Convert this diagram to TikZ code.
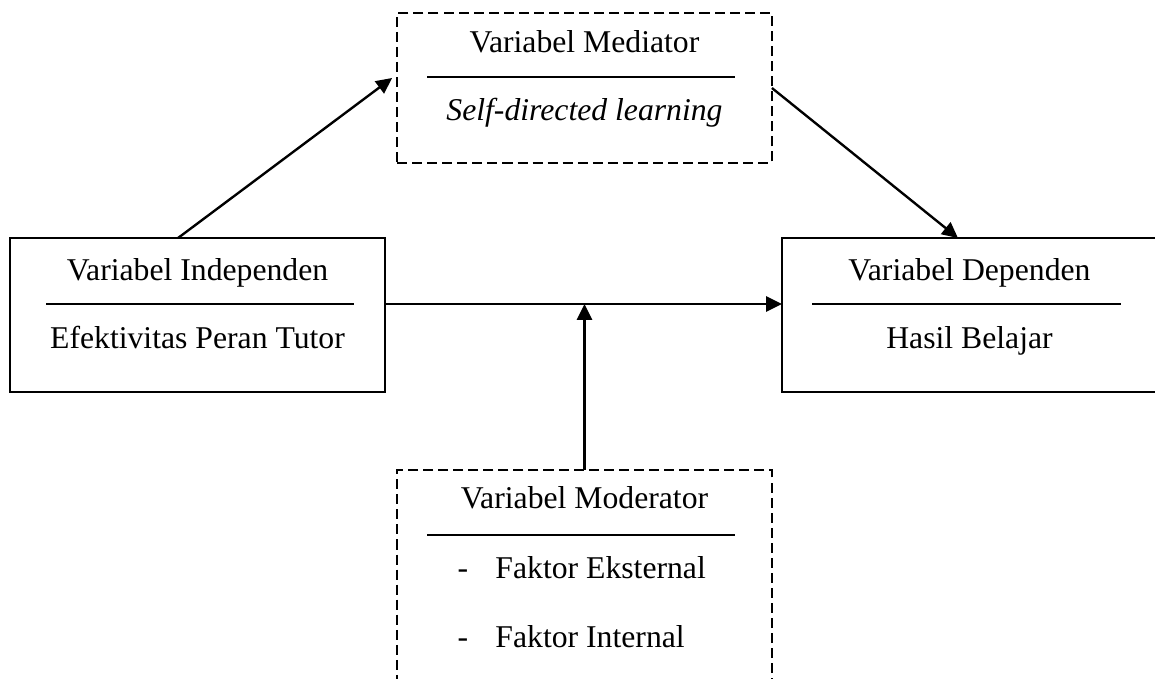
\documentclass[tikz,border=0pt]{standalone}
\usepackage{fontspec}
\setmainfont{Liberation Serif}
\usetikzlibrary{arrows.meta,calc}

\begin{document}
\begin{tikzpicture}[x=0.0133cm,y=-0.0133cm,font=\fontsize{12}{14}\selectfont,
solidbox/.style={rectangle,draw=black,line width=0.7pt,outer sep=0pt,minimum width=4.9875cm,minimum height=2.048cm},
dashbox/.style={rectangle,draw=black,line width=0.9pt,dash pattern=on 3.8pt off 1.9pt,outer sep=0pt,minimum width=4.9875cm},
textlabel/.style={anchor=base,inner sep=0pt},
listlabel/.style={anchor=base west,inner sep=0pt},
divider/.style={line width=0.7pt},
link/.style={line width=0.9pt,-{Triangle[length=6pt,width=5.7pt]}}]
\useasboundingbox (0,0) rectangle (1155,679);
\clip (0,0) rectangle (1155,679);
% boxes
\node (mediator) at (584.5,88) [dashbox,minimum height=1.995cm] {};
\node (indep) at (197.5,315) [solidbox] {};
\node (dep) at (969.5,315) [solidbox] {};
\node (moderator) at (584.5,595) [dashbox,minimum height=3.325cm] {};
% mediator
\draw (584.5,52) node [textlabel] (medtitle) {Variabel Mediator};
\draw[divider] (427,77) -- (735,77);
\draw (584.5,120) node [textlabel] (medtext) {\itshape Self-directed learning};
% independent
\draw (197.5,280) node [textlabel] (indtitle) {Variabel Independen};
\draw[divider] (46,304) -- (354,304);
\draw (197.5,348) node [textlabel] (indtext) {Efektivitas Peran Tutor};
% dependent
\draw (969.5,280) node [textlabel] (deptitle) {Variabel Dependen};
\draw[divider] (812,304) -- (1121,304);
\draw (969.5,348) node [textlabel] (deptext) {Hasil Belajar};
% moderator
\draw (584.5,508) node [textlabel] (modtitle) {Variabel Moderator};
\draw[divider] (427,535) -- (735,535);
\draw (457,578) node [listlabel] (modext) {\makebox[0.505cm][l]{-}Faktor Eksternal};
\draw (457,647) node [listlabel] (modint) {\makebox[0.505cm][l]{-}Faktor Internal};
% arrows
\coordinate (mainline) at (385,304);
\draw[link] ($(indep.north)+(-19.5,0)$) -- ($(mediator.west)+(-5,-10)$);
\draw[link] (mediator.east) -- ($(dep.north)+(-11.5,0)$);
\draw[link] (mainline) -- (mainline -| dep.west);
\draw[link] (moderator.north) -- (moderator.north |- mainline);
\end{tikzpicture}
\end{document}
